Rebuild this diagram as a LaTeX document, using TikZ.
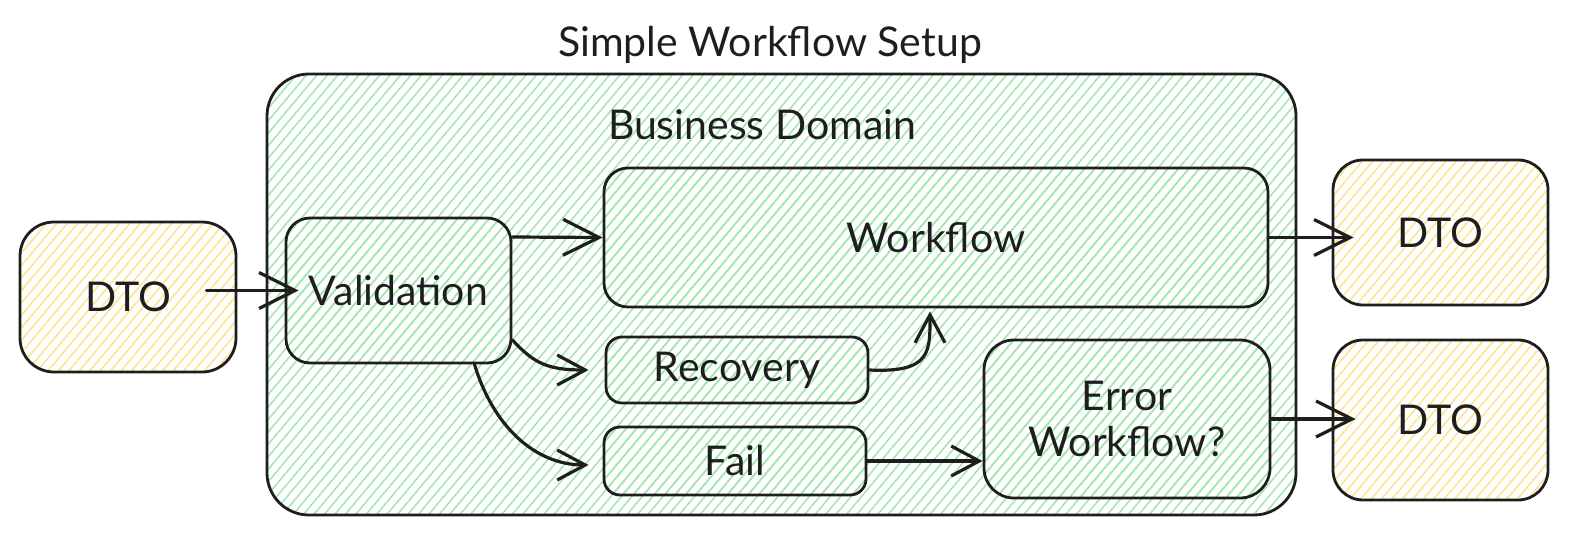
\documentclass[tikz,border=0pt]{standalone}
\usepackage{fontspec}
\setmainfont{Lato}
\usetikzlibrary{patterns.meta,arrows.meta}
\definecolor{hatchgreen}{HTML}{A3E7AE}
\definecolor{hatchyellow}{HTML}{FFE38F}
\definecolor{ink}{HTML}{1E1E1E}
\tikzset{
  box/.style={draw=ink, line width=2.8pt, rounded corners=24pt, inner sep=0pt, font=\fontsize{41}{46}\selectfont, text=ink, align=center},
  greenhatch/.style={pattern={Lines[angle=50,distance=8pt,line width=1.6pt]}, pattern color=hatchgreen},
  yellowhatch/.style={pattern={Lines[angle=50,distance=8pt,line width=1.6pt]}, pattern color=hatchyellow},
  conn/.style={draw=ink, line width=3.2pt, line cap=round, -{Straight Barb[length=36pt,width=36pt,line width=3.2pt]}},
  smallconn/.style={draw=ink, line width=3.2pt, line cap=round, -{Straight Barb[length=28pt,width=30pt,line width=3.2pt]}},
  lbl/.style={font=\fontsize{41}{46}\selectfont, text=ink, inner sep=0pt}
}
\begin{document}
\begin{tikzpicture}[x=1pt,y=-1pt]
\useasboundingbox (0,0) rectangle (1589,540);
% title
\node[lbl] (title) at (770,45) {Simple Workflow Setup};
% outer container
\draw[draw=ink, line width=2.8pt, rounded corners=42pt, greenhatch] (267,74) rectangle (1296,515);
\node[lbl] (bd) at (762,125) {Business Domain};
% nodes
\node[box, yellowhatch, rounded corners=34pt, minimum width=216pt, minimum height=150pt] (dtoL) at (128,297) {DTO};
\node[box, greenhatch, minimum width=225pt, minimum height=145pt] (val) at (398.5,290.5) {Validation};
\node[box, greenhatch, minimum width=664pt, minimum height=139pt] (wf) at (936,237.5) {Workflow};
\node[box, greenhatch, rounded corners=16pt, minimum width=262pt, minimum height=66pt] (rec) at (737,370) {Recovery};
\node[box, greenhatch, rounded corners=16pt, minimum width=262pt, minimum height=68pt] (fail) at (735,461) {Fail};
\node[box, greenhatch, rounded corners=30pt, minimum width=286pt, minimum height=158pt] (err) at (1127,419) {Error\\Workflow?};
\node[box, yellowhatch, rounded corners=30pt, minimum width=215pt, minimum height=145pt] (dtoA) at (1440.5,232.5) {DTO};
\node[box, yellowhatch, rounded corners=30pt, minimum width=215pt, minimum height=160pt] (dtoB) at (1440.5,420) {DTO};
% connectors
\draw[conn, shorten <=-31pt, shorten >=-14pt] (dtoL.east |- val.west) -- (val.west);
\draw[conn] ([yshift=53.5pt]val.east) -- (wf.west);
\draw[smallconn] ([yshift=-49.5pt]val.east) .. controls +(22,24) and +(-40,0) .. ([xshift=-16pt]rec.west);
\draw[smallconn] ([xshift=76pt]val.south) .. controls +(18,60) and +(-55,0) .. ([xshift=-14pt,yshift=-4pt]fail.west);
\draw[smallconn] (rec.east) .. controls +(62,3) and +(0,40) .. ([xshift=-6pt,yshift=-3pt]wf.south);
\draw[smallconn] (fail.east) -- (fail.east -| err.west);
\draw[conn] (wf.east) -- ([xshift=22pt]wf.east -| dtoA.west);
\draw[conn] (err.east) -- ([xshift=24pt]err.east -| dtoB.west);
\end{tikzpicture}
\end{document}
